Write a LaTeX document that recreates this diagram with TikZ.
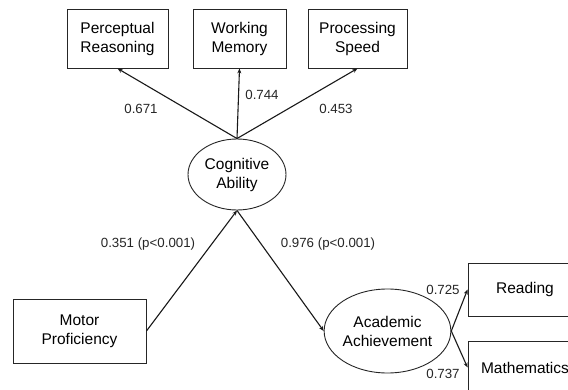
\documentclass[tikz,border=0pt]{standalone}
\usepackage{fontspec}
\setmainfont{Liberation Sans}
\usetikzlibrary{shapes.geometric,arrows.meta}
\begin{document}
\begin{tikzpicture}[x=1pt,y=-1pt,
  box/.style={draw=black!85,line width=0.9pt,rectangle,inner sep=0pt,align=center,
    font=\fontsize{15.5}{19}\selectfont},
  lat/.style={draw=black!85,line width=0.9pt,ellipse,inner sep=0pt,align=center,
    font=\fontsize{15.5}{19}\selectfont},
  lbl/.style={inner sep=0pt,font=\fontsize{13.3}{15}\selectfont,text=black!85},
  arr/.style={line width=1.1pt,draw=black!90,-{Stealth[length=5pt,width=4pt]}}]
\useasboundingbox (0,0) rectangle (568,390);
\clip (0,0) rectangle (568,390);
\fill[white] (0,0) rectangle (568,390);
\node[box,minimum width=101,minimum height=59] (pr) at (117.5,38.5) {Perceptual\\Reasoning};
\node[box,minimum width=93,minimum height=59] (wm) at (239.5,38.5) {Working\\Memory};
\node[box,minimum width=99,minimum height=59] (ps) at (357.5,38.5) {Processing\\Speed};
\node[lat,minimum width=98,minimum height=71] (cog) at (237,174.5) {Cognitive\\Ability};
\node[box,minimum width=133,minimum height=64] (mot) at (79.5,331) {Motor\\Proficiency};
\node[lat,minimum width=117,minimum height=84] (aca) at (387.5,331) {Academic\\Achievement};
\node[box,minimum width=114,minimum height=53] (rd) at (525,289.5) {Reading};
\node[box,minimum width=114,minimum height=53] (ma) at (525,367.5) {Mathematics};
\draw[arr] (cog.north) -- (pr.south);
\draw[arr] (cog.north) -- (wm.south);
\draw[arr] (cog.north) -- (ps.south);
\draw[arr] (mot.east) -- (cog.south);
\draw[arr] (cog.south) -- (aca.west);
\draw[arr] (aca.east) -- (rd.west);
\draw[arr] (aca.east) -- (ma.west);
\node[lbl] (l1) at (141,109) {0.671};
\node[lbl] (l2) at (262,95) {0.744};
\node[lbl] (l3) at (336,109) {0.453};
\node[lbl] (l4) at (148,244) {0.351 (p<0.001)};
\node[lbl] (l5) at (328,244) {0.976 (p<0.001)};
\node[lbl] (l6) at (443,290) {0.725};
\node[lbl] (l7) at (443,374) {0.737};
\end{tikzpicture}
\end{document}
